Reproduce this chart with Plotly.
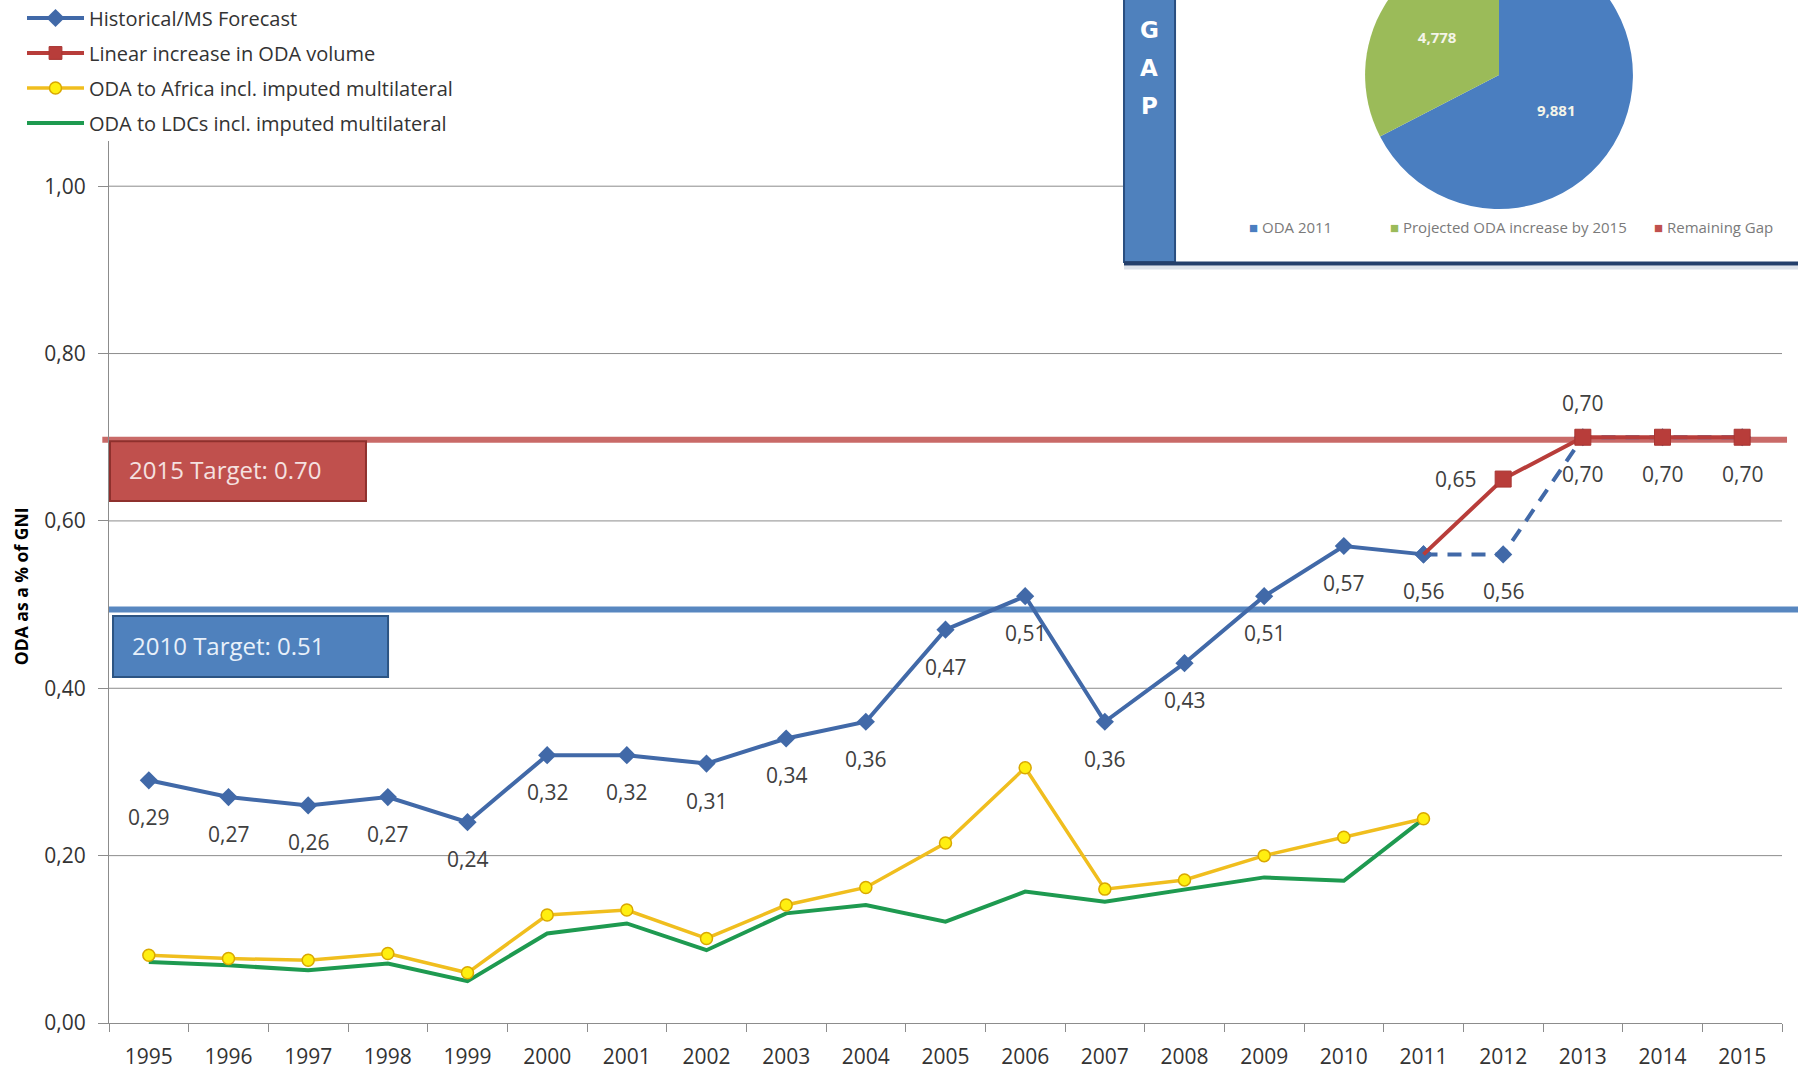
import plotly.graph_objects as go

# ---- data ----
YEARS = ["1995", "1996", "1997", "1998", "1999", "2000", "2001", "2002", "2003", "2004",
         "2005", "2006", "2007", "2008", "2009", "2010", "2011", "2012", "2013", "2014", "2015"]

HIST_YEARS = YEARS[:17]  # 1995-2011
HISTORICAL = [0.29, 0.27, 0.26, 0.27, 0.24, 0.32, 0.32, 0.31, 0.34, 0.36,
              0.47, 0.51, 0.36, 0.43, 0.51, 0.57, 0.56]

FORECAST_YEARS = ["2011", "2012", "2013", "2014", "2015"]
MS_FORECAST = [0.56, 0.56, 0.70, 0.70, 0.70]
LINEAR_INCREASE = [0.56, 0.65, 0.70, 0.70, 0.70]

AFRICA = [0.081, 0.077, 0.075, 0.083, 0.060, 0.129, 0.135, 0.101, 0.141, 0.162,
          0.215, 0.305, 0.160, 0.171, 0.200, 0.222, 0.244]
LDCS = [0.073, 0.069, 0.063, 0.071, 0.050, 0.107, 0.119, 0.087, 0.131, 0.141,
        0.121, 0.157, 0.145, 0.159, 0.174, 0.170, 0.244]

TARGET_TEXT = ["2015 Target: 0.70", "2010 Target: 0.51"]
TARGET_LINE_LEVEL = [0.697, 0.494]

PIE_LABELS = ["ODA 2011", "Projected ODA increase by 2015", "Remaining Gap"]
PIE_VALUES = [9881, 4778, 0]

Y_TICKS = [0.0, 0.2, 0.4, 0.6, 0.8, 1.0]

BLUE = "#4169A8"
RED = "#B83D3A"
YELLOW = "#F0BE1E"
GREEN = "#1E9A50"
FONT = "Open Sans"


def comma(v):
    return f"{v:.2f}".replace(".", ",")


fig = go.Figure()

fig.add_trace(go.Scatter(
    x=HIST_YEARS, y=LDCS, mode="lines", name="ODA to LDCs incl. imputed multilateral",
    line=dict(color=GREEN, width=4), legendrank=4, legendgroup="d"))
fig.add_trace(go.Scatter(
    x=HIST_YEARS, y=AFRICA, mode="lines+markers", name="ODA to Africa incl. imputed multilateral",
    line=dict(color=YELLOW, width=3.5),
    marker=dict(symbol="circle", size=12, color="#FFEF10", line=dict(color="#D9A800", width=1.5)),
    legendrank=3, legendgroup="c"))
fig.add_trace(go.Scatter(
    x=FORECAST_YEARS, y=MS_FORECAST, mode="lines+markers", showlegend=False,
    line=dict(color=BLUE, width=4, dash="14px,10px"),
    marker=dict(symbol="diamond", size=14, color=BLUE)))
fig.add_trace(go.Scatter(
    x=HIST_YEARS, y=HISTORICAL, mode="lines+markers", name="Historical/MS Forecast",
    line=dict(color=BLUE, width=4),
    marker=dict(symbol="diamond", size=14, color=BLUE),
    legendrank=1, legendgroup="a"))
fig.add_trace(go.Scatter(
    x=FORECAST_YEARS, y=LINEAR_INCREASE, mode="lines+markers", name="Linear increase in ODA volume",
    line=dict(color=RED, width=4),
    marker=dict(symbol="square", size=[0, 16, 16, 16, 16], color=RED, opacity=1,
                line=dict(color="#A83532", width=1)),
    legendrank=2, legendgroup="b"))

fig.add_trace(go.Pie(
    labels=PIE_LABELS, values=PIE_VALUES, sort=False, direction="clockwise", rotation=0,
    text=[f"<b>{v:,}</b>" if v else "" for v in PIE_VALUES], textinfo="text", textposition="inside",
    insidetextfont=dict(family=FONT, size=15, color="#F4F4E8"),
    marker=dict(colors=["#4A7EC0", "#9BBB59", "#C0504D"], line=dict(width=0)),
    domain=dict(x=[0.7508, 0.9109], y=[0.7516, 0.999]),
    showlegend=False, hoverinfo="label+value"))

shapes = []
# horizontal gridlines (the 1,00 line stops at the inset box)
for v in Y_TICKS[1:]:
    shapes.append(dict(type="line", xref="paper", yref="y", x0=0, x1=0.6067 if v == 1.0 else 1,
                       y0=v, y1=v, line=dict(color="#8C8C8C", width=1), layer="below"))

# target lines
shapes.append(dict(type="line", xref="paper", yref="y", x0=-0.004, x1=1.003,
                   y0=TARGET_LINE_LEVEL[0], y1=TARGET_LINE_LEVEL[0],
                   line=dict(color="rgba(192,80,77,0.85)", width=6), layer="below"))
shapes.append(dict(type="line", xref="paper", yref="y", x0=0.0, x1=1.01,
                   y0=TARGET_LINE_LEVEL[1], y1=TARGET_LINE_LEVEL[1],
                   line=dict(color="rgba(79,129,189,0.95)", width=6), layer="below"))

# target boxes
shapes.append(dict(type="rect", xref="paper", yref="y", x0=0.0006, x1=0.1536, y0=0.6237, y1=0.6953,
                   fillcolor="#C0504D", line=dict(color="#8E302D", width=2), layer="below"))
shapes.append(dict(type="rect", xref="paper", yref="y", x0=0.0024, x1=0.1668, y0=0.4134, y1=0.4863,
                   fillcolor="#4F81BD", line=dict(color="#2C5483", width=2), layer="below"))

# inset box for the pie
shapes.append(dict(type="rect", xref="paper", yref="paper", x0=0.6067, x1=1.02, y0=0.7027, y1=1.02,
                   fillcolor="white", line=dict(width=0), layer="below"))
shapes.append(dict(type="rect", xref="paper", yref="paper", x0=0.6067, x1=0.6372, y0=0.7027, y1=1.02,
                   fillcolor="#4F81BD", line=dict(color="#2A4F80", width=2), layer="below"))
shapes.append(dict(type="line", xref="paper", yref="paper", x0=0.6067, x1=1.02, y0=0.6975, y1=0.6975,
                   line=dict(color="#DDE2EA", width=4), layer="below"))
shapes.append(dict(type="line", xref="paper", yref="paper", x0=0.6067, x1=1.02, y0=0.7012, y1=0.7012,
                   line=dict(color="#243F6B", width=4), layer="below"))

annotations = []
label_font = dict(family=FONT, size=21, color="#404040")
for x, y in zip(HIST_YEARS + FORECAST_YEARS[1:], HISTORICAL + MS_FORECAST[1:]):
    annotations.append(dict(xref="x", yref="y", x=YEARS.index(x), y=y, text=comma(y),
                            showarrow=False, yshift=-37, font=label_font))
annotations.append(dict(xref="x", yref="y", x=YEARS.index(FORECAST_YEARS[1]), y=LINEAR_INCREASE[1],
                        text=comma(LINEAR_INCREASE[1]), showarrow=False, xshift=-48, font=label_font))
annotations.append(dict(xref="x", yref="y", x=YEARS.index(FORECAST_YEARS[2]), y=LINEAR_INCREASE[2],
                        text=comma(LINEAR_INCREASE[2]), showarrow=False, yshift=34, font=label_font))

# target box texts
annotations.append(dict(xref="paper", yref="y", x=0.0105, y=0.661, xanchor="left", text=TARGET_TEXT[0],
                        showarrow=False, font=dict(family=FONT, size=24, color="#F5E1E0")))
annotations.append(dict(xref="paper", yref="y", x=0.0125, y=0.451, xanchor="left", text=TARGET_TEXT[1],
                        showarrow=False, font=dict(family=FONT, size=24, color="#E8F0FA")))

# y axis title
annotations.append(dict(xref="paper", yref="y", x=-0.061, y=0.522, text="<b>ODA as a % of GNI</b>",
                        textangle=-90, showarrow=False, font=dict(family=FONT, size=17.5, color="black")))

# "GAP" letters in the inset
for letter, yp in zip("GAP", [0.9305, 0.8955, 0.8603]):
    annotations.append(dict(xref="paper", yref="paper", x=0.6218, y=yp, text=f"<b>{letter}</b>",
                            showarrow=False, font=dict(family="DejaVu Sans", size=23, color="white")))

# pie legend
pie_cols = ["#4A7EC0", "#9BBB59", "#C0504D"]
for lab, col, xp in zip(PIE_LABELS, pie_cols, [0.680, 0.7645, 0.9225]):
    annotations.append(dict(xref="paper", yref="paper", x=xp, y=0.7463, xanchor="left",
                            text=f"<span style='color:{col}'>■</span> {lab}", showarrow=False,
                            font=dict(family=FONT, size=15, color="#7A7A7A")))

fig.update_layout(
    width=1798, height=1135,
    margin=dict(l=109, r=16, t=0, b=52),
    paper_bgcolor="white", plot_bgcolor="white",
    font=dict(family=FONT, color="#333333"),
    shapes=shapes, annotations=annotations,
    legend=dict(x=-0.052, y=0.946, xanchor="left", yanchor="top",
                font=dict(family=FONT, size=20, color="#333333"),
                tracegroupgap=6, itemwidth=57, bgcolor="rgba(0,0,0,0)"),
    xaxis=dict(type="category", categoryorder="array", categoryarray=YEARS,
               tickson="boundaries", ticks="outside", ticklen=8, tickcolor="#8C8C8C",
               showline=True, linecolor="#8C8C8C", showgrid=False, zeroline=False,
               tickfont=dict(family=FONT, size=21, color="#333333"), ticklabelstandoff=15,
               range=[-0.5, 20.5]),
    yaxis=dict(domain=[0, 0.8144], range=[0, 1.054], tickvals=Y_TICKS,
               ticktext=[comma(v) for v in Y_TICKS], ticks="outside", ticklen=10,
               tickcolor="#8C8C8C", showline=True, linecolor="#8C8C8C", showgrid=False,
               zeroline=False, tickfont=dict(family=FONT, size=21, color="#333333"),
               ticklabelstandoff=8),
)

fig.write_html(
    "out.html",
    post_script="document.body.style.margin='0';document.body.style.overflow='hidden';"
                "document.getElementById('{plot_id}').style.marginTop='-60px';",
)
